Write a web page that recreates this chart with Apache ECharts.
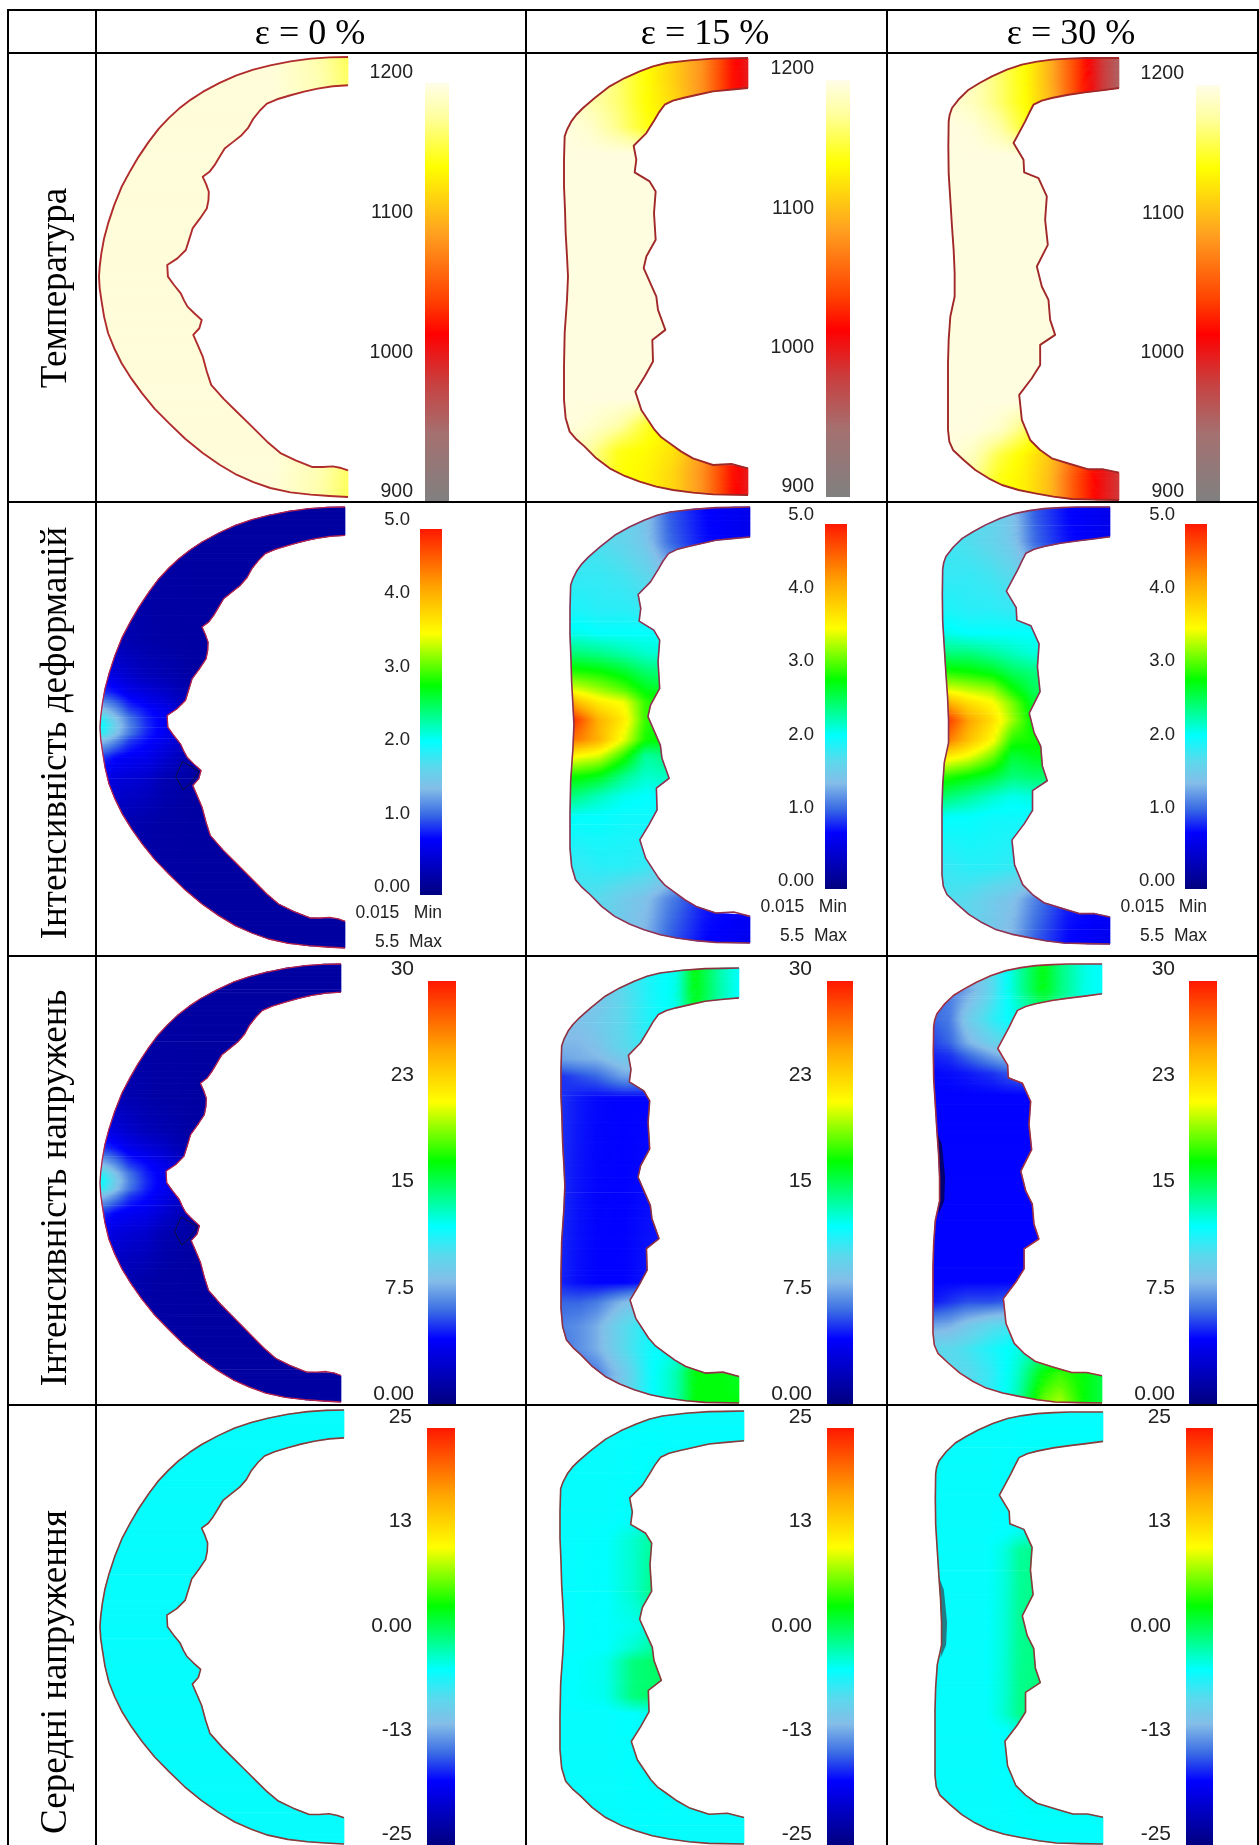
<!DOCTYPE html>
<html>
<head>
<meta charset="utf-8">
<style>
  html, body { margin: 0; padding: 0; background: #fff; }
  #chart { width: 1259px; height: 1845px; overflow: hidden; }
</style>
<script src="https://cdn.jsdelivr.net/npm/echarts@6/dist/echarts.min.js"></script>
</head>
<body>
<div id="chart"></div>
<script>
// headers
const strainHeaders = ['ε = 0 %', 'ε = 15 %', 'ε = 30 %'];
const rowHeaders = ['Температура', 'Інтенсивність деформацій', 'Інтенсивність напружень', 'Середні напруження'];

// scale labels, low to high
const tempLabels = ['900', '1000', '1100', '1200'];
const strainLabels = ['0.00', '1.0', '2.0', '3.0', '4.0', '5.0'];
const stressLabels = ['0.00', '7.5', '15', '23', '30'];
const meanLabels = ['-25', '-13', '0.00', '13', '25'];

// colour scales, position from the bottom of the bar
const heatStops = [[0, '#808080'], [0.163, '#a57070'], [0.283, '#c84040'], [0.4, '#ff0000'], [0.48, '#ff4000'],
  [0.64, '#ffa020'], [0.8, '#ffff00'], [0.92, '#ffffa0'], [1, '#fffde8']];
const jetStops = [[0, '#000080'], [0.153, '#0000ff'], [0.22, '#3a6ce4'], [0.29, '#84bde8'], [0.35, '#5cd8ec'],
  [0.42, '#00ffff'], [0.573, '#00ff00'], [0.714, '#ffff00'], [0.84, '#ffa500'], [1, '#ff1800']];

// section outlines, [x, y]
const outer0 = [[1030,170],[975,171],[920,175],[860,183],[800,195],[750,208],[700,225],[650,248],[600,275],[565,298],[530,325],[500,353],[470,385],[440,425],[410,470],[385,513],[360,560],[338,615],[320,670],[308,715],[300,760],[295,800],[293,830],[295,865],[300,900],[308,950],[320,1000],[338,1045],[360,1090],[388,1135],[420,1180],[458,1227],[500,1270],[548,1317],[600,1360],[650,1395],[700,1425],[750,1447],[800,1465],[860,1478],[920,1485],[975,1489],[1030,1492]];
const inner0 = [[1030,255],[985,258],[940,265],[900,274],[860,285],[820,297],[790,310],[770,330],[750,355],[735,382],[715,405],[690,425],[665,445],[650,470],[635,495],[620,515],[600,530],[610,552],[618,575],[617,600],[612,625],[592,655],[570,685],[560,718],[550,750],[525,775],[495,795],[497,830],[515,855],[535,880],[545,902],[555,920],[575,940],[597,960],[590,985],[572,1005],[585,1035],[600,1070],[612,1115],[625,1155],[662,1197],[700,1235],[730,1265],[760,1295],[795,1330],[830,1360],[875,1382],[925,1402],[955,1402],[985,1400],[1010,1405],[1030,1412]];
const outer15 = [[665,175],[610,176],[560,177],[490,182],[420,190],[380,200],[340,215],[295,235],[250,260],[205,295],[170,325],[150,345],[135,365],[122,390],[115,410],[113,480],[113,560],[116,630],[118,700],[122,770],[125,830],[122,900],[115,1000],[113,1100],[113,1200],[118,1255],[130,1295],[150,1318],[175,1340],[210,1375],[250,1405],[295,1428],[340,1445],[390,1460],[440,1470],[500,1478],[560,1483],[665,1485]];
const inner15 = [[665,265],[610,270],[560,275],[510,286],[470,295],[440,303],[415,315],[398,338],[385,360],[360,400],[322,438],[330,480],[325,518],[370,545],[388,575],[383,640],[388,720],[360,770],[352,805],[372,850],[390,890],[395,930],[417,990],[378,1020],[380,1085],[355,1130],[327,1175],[345,1230],[385,1290],[405,1312],[430,1330],[465,1355],[500,1375],[560,1395],[615,1392],[665,1405]];
const outer30 = [[702,175],[650,175],[600,175],[550,177],[500,180],[455,186],[410,195],[365,210],[320,230],[283,250],[250,270],[222,297],[200,325],[193,345],[190,365],[189,440],[190,520],[195,600],[200,680],[205,750],[208,820],[208,890],[195,950],[190,1020],[188,1090],[188,1290],[192,1325],[203,1350],[235,1380],[270,1410],[310,1435],[350,1455],[400,1470],[450,1480],[505,1490],[560,1497],[630,1499],[702,1500]];
const inner30 = [[702,265],[650,272],[600,278],[550,285],[500,295],[470,303],[445,315],[432,340],[420,365],[385,430],[415,480],[417,518],[460,535],[485,590],[480,660],[488,735],[455,800],[470,860],[490,900],[495,960],[510,1005],[465,1035],[465,1095],[440,1135],[402,1185],[410,1260],[435,1320],[465,1350],[500,1375],[555,1392],[610,1408],[655,1408],[702,1418]];
// small dark mesh fold at the ε = 0 notch, dark patch on the ε = 30 outer wall
const foldMark0 = [[521,978],[541,933],[591,963],[566,998],[543,1018],[521,978]];
const darkWall30 = [[200,680],[208,820],[208,890],[205,930],[222,890],[225,820],[215,720]];

// fields: values on [rows, cols] fractions of the section's box
const tempRows0 = [0, 0.12, 0.2, 0.8, 0.88, 1];
const tempCols0 = [0, 0.7, 0.88, 1];
const temp0 = [
  [1195,1195,1180,1160],
  [1195,1195,1185,1165],
  [1195,1195,1195,1195],
  [1195,1195,1195,1195],
  [1195,1195,1185,1165],
  [1195,1195,1180,1160]];
const tempRows = [0, 0.05, 0.1, 0.16, 0.22, 0.78, 0.84, 0.9, 0.95, 1];
const tempCols = [0, 0.15, 0.3, 0.45, 0.6, 0.75, 0.9, 1];
const temp15 = [
  [1190,1185,1165,1140,1115,1085,1030,1005],
  [1190,1185,1165,1140,1115,1085,1030,1005],
  [1195,1180,1165,1140,1120,1085,1030,1005],
  [1198,1190,1170,1145,1125,1085,1030,1005],
  [1197,1197,1197,1197,1197,1197,1197,1197],
  [1197,1197,1197,1197,1197,1197,1197,1197],
  [1197,1192,1180,1150,1130,1100,1030,1005],
  [1195,1175,1145,1138,1125,1090,1030,1010],
  [1190,1170,1142,1135,1118,1085,1030,1005],
  [1190,1170,1142,1135,1118,1085,1030,1005]];
const temp30 = [
  [1190,1185,1165,1140,1100,1045,990,960],
  [1190,1185,1165,1140,1100,1045,990,960],
  [1195,1185,1165,1140,1105,1045,990,960],
  [1198,1195,1180,1150,1120,1045,990,960],
  [1197,1197,1197,1197,1197,1197,1197,1197],
  [1197,1197,1197,1197,1197,1197,1197,1197],
  [1197,1197,1190,1165,1130,1060,1010,990],
  [1197,1185,1155,1135,1110,1060,1010,990],
  [1192,1175,1145,1132,1105,1050,1010,990],
  [1192,1175,1145,1132,1105,1050,1010,990]];

const edgeRows0 = [0, 0.30, 0.38, 0.42, 0.46, 0.48, 0.497, 0.515, 0.53, 0.57, 0.62, 0.72, 1];
const edgeCols0 = [0, 0.02, 0.065, 0.12, 0.19, 0.26, 0.4, 1];
const strain0 = [
  [0.2,0.2,0.2,0.2,0.2,0.2,0.2,0.2],
  [0.3,0.3,0.3,0.28,0.25,0.22,0.2,0.2],
  [0.6,0.6,0.55,0.45,0.35,0.3,0.2,0.2],
  [0.9,0.9,0.8,0.65,0.55,0.45,0.2,0.2],
  [1.5,1.45,1.25,0.95,0.8,0.65,0.25,0.2],
  [1.95,1.85,1.5,1.15,0.87,0.7,0.25,0.2],
  [2.1,2.0,1.6,1.2,0.9,0.7,0.25,0.2],
  [1.95,1.85,1.5,1.15,0.87,0.7,0.25,0.2],
  [1.5,1.45,1.25,0.95,0.8,0.65,0.25,0.2],
  [0.9,0.9,0.75,0.7,0.65,0.5,0.2,0.2],
  [0.6,0.6,0.55,0.5,0.45,0.3,0.2,0.2],
  [0.3,0.3,0.3,0.28,0.25,0.22,0.2,0.2],
  [0.2,0.2,0.2,0.2,0.2,0.2,0.2,0.2]];
const strainRows = [0, 0.08, 0.16, 0.24, 0.29, 0.336, 0.38, 0.42, 0.45, 0.489, 0.535, 0.57, 0.618, 0.664, 0.71, 0.825, 0.9, 1];
const strainCols = [0, 0.05, 0.16, 0.3, 0.42, 0.55, 0.75, 1];
const strain15 = [
  [1.8,1.8,1.8,1.7,1.5,1.05,0.77,0.65],
  [1.85,1.85,1.8,1.7,1.55,1.1,0.8,0.65],
  [1.9,1.9,1.9,1.85,1.75,1.5,0.9,0.7],
  [2.0,2.0,1.95,1.95,1.9,1.9,1.9,1.9],
  [2.15,2.15,2.1,2.1,2.1,2.1,2.1,2.1],
  [2.5,2.5,2.45,2.35,2.25,2.2,2.2,2.2],
  [3.0,2.95,2.9,2.75,2.55,2.5,2.5,2.5],
  [3.5,3.45,3.3,3.1,2.8,2.7,2.7,2.7],
  [4.3,4.0,3.7,3.55,3.0,2.9,2.9,2.9],
  [4.95,4.7,4.1,3.7,3.0,2.9,2.9,2.9],
  [4.5,4.4,4.1,3.5,2.9,2.85,2.85,2.85],
  [3.7,3.6,3.5,3.0,2.4,2.5,2.5,2.5],
  [2.9,2.9,2.8,2.45,2.25,2.3,2.3,2.3],
  [2.5,2.45,2.3,2.15,2.1,2.1,2.1,2.1],
  [2.15,2.1,2.1,2.05,2.05,2.05,2.05,2.05],
  [1.9,1.9,1.95,1.95,1.9,1.75,1.75,1.75],
  [1.8,1.8,1.75,1.6,1.5,1.2,0.85,0.75],
  [1.7,1.7,1.65,1.55,1.4,1.05,0.77,0.65]];
const strain30 = [
  [1.8,1.8,1.8,1.7,1.5,1.05,0.77,0.65],
  [1.85,1.85,1.8,1.7,1.55,1.1,0.8,0.65],
  [1.9,1.9,1.9,1.85,1.75,1.5,0.9,0.7],
  [2.0,2.0,1.95,1.95,1.9,1.9,1.9,1.9],
  [2.15,2.15,2.1,2.1,2.1,2.1,2.1,2.1],
  [2.55,2.5,2.5,2.4,2.3,2.2,2.2,2.2],
  [3.0,2.95,2.9,2.8,2.6,2.5,2.5,2.5],
  [3.5,3.5,3.4,3.3,2.9,2.6,2.6,2.6],
  [4.3,4.1,3.8,3.6,3.2,2.7,2.7,2.7],
  [4.95,4.75,4.2,3.8,3.3,2.8,2.8,2.8],
  [4.5,4.4,4.0,3.6,2.95,2.9,2.9,2.9],
  [3.8,3.7,3.55,3.2,2.7,2.8,2.8,2.8],
  [3.0,2.95,2.85,2.7,2.5,2.55,2.55,2.55],
  [2.55,2.5,2.4,2.25,2.15,2.2,2.2,2.2],
  [2.15,2.1,2.1,2.05,2.05,2.05,2.05,2.05],
  [1.9,1.9,1.95,1.95,1.9,1.75,1.75,1.75],
  [1.8,1.8,1.75,1.6,1.5,1.2,0.85,0.75],
  [1.7,1.7,1.65,1.55,1.4,1.05,0.77,0.65]];

const stress0 = [
  [1.2,1.2,1.2,1.2,1.2,1.2,1.2,1.2],
  [1.8,1.8,1.8,1.7,1.5,1.3,1.2,1.2],
  [3.6,3.6,3.3,2.7,2.1,1.8,1.2,1.2],
  [5.4,5.4,4.8,3.9,3.3,2.7,1.2,1.2],
  [9,8.7,7.5,5.7,4.8,3.9,1.5,1.2],
  [11.7,11.1,9,6.9,5.2,4.2,1.5,1.2],
  [12.6,12,9.6,7.2,5.4,4.2,1.5,1.2],
  [11.7,11.1,9,6.9,5.2,4.2,1.5,1.2],
  [9,8.7,7.5,5.7,4.8,3.9,1.5,1.2],
  [5.4,5.4,4.5,4.2,3.9,3,1.2,1.2],
  [3.6,3.6,3.3,3,2.7,1.8,1.2,1.2],
  [1.8,1.8,1.8,1.7,1.5,1.3,1.2,1.2],
  [1.2,1.2,1.2,1.2,1.2,1.2,1.2,1.2]];
const stressRows = [0, 0.06, 0.126, 0.18, 0.21, 0.25, 0.30, 0.724, 0.77, 0.824, 0.877, 0.93, 1];
const stressCols = [0, 0.1, 0.2, 0.35, 0.5, 0.65, 0.75, 0.9, 1];
const stress15 = [
  [9,9,9.5,10.5,12,13,17,14,12.6],
  [9,9,9,10.5,12,13,17,14,12.6],
  [9,9,9.5,10.5,12,13,16,14,12.6],
  [8.5,8.5,9,10.5,11.5,12,12,12,12],
  [8,8.3,8.5,9.5,10,10,10,10,10],
  [5.5,6,6.5,8,8,8,8,8,8],
  [5.5,5,4.7,4.6,4.6,4.6,4.6,4.6,4.6],
  [5.2,4.8,4.6,4.6,5,5,5,5,5],
  [6.5,6.5,7,8.7,10,10,10,10,10],
  [7.2,7.5,8.3,10.5,12,12,12,12,12],
  [6.8,7.5,8.3,10.5,12.3,13,13,13,13],
  [6.5,6.5,7,9.5,12.3,14,17,17,16.5],
  [7,7,7,9.5,12.3,14,17,17,17]];
const stress30 = [
  [7,7,8,10.5,14,17,15,13,12.6],
  [7,7,8,10.5,14,17,15,13,12.6],
  [6.5,7,9.5,11.5,13,14,14,13,12.6],
  [5.8,6.5,8.3,10,11,12,12,12,12],
  [5.2,5.5,6.5,8,9.5,10,10,10,10],
  [4.7,4.8,5,5.5,6.5,6.5,6.5,6.5,6.5],
  [4.6,4.6,4.6,4.6,4.6,4.6,4.6,4.6,4.6],
  [4.6,4.6,4.6,4.6,4.6,4.6,4.6,4.6,4.6],
  [5,5.5,6,6,6.5,6.5,6.5,6.5,6.5],
  [8,8.3,9.3,10.5,11,11,11,11,11],
  [10.5,10.5,11,12,13,14,14,14,14],
  [10.5,10.5,10.5,11.5,13.5,17,18,17,16],
  [10.5,10.5,10.5,11.5,14,19,20,17,16]];

const flatRows = [0, 1];
const flatCols = [0, 1];
const mean0 = [[-4.2,-4.2],[-4.2,-4.2]];
const meanRows15 = [0, 0.25, 0.3, 0.42, 0.5, 0.55, 0.58, 0.66, 0.7, 1];
const meanCols15 = [0, 0.25, 0.4, 0.5, 0.6, 1];
const mean15 = [
  [-4.2,-4.2,-4.2,-4.2,-4.2,-4.2],
  [-4.2,-4.2,-4,-3.5,-4,-4],
  [-4.2,-4,-2.5,-1,-1,-4],
  [-4.2,-4,-2.5,-0.5,-0.5,-4],
  [-4.2,-4,-3.5,-3,-3,-4],
  [-4.2,-4,-2.5,-1,-1,-4],
  [-4.2,-3.5,0,0.5,0.5,-4],
  [-4.2,-3.5,0,0.5,0.5,-4],
  [-4.2,-4.2,-4,-3.5,-4,-4],
  [-4.2,-4.2,-4.2,-4.2,-4.2,-4.2]];
const meanRows30 = [0, 0.28, 0.32, 0.7, 0.74, 1];
const meanCols30 = [0, 0.3, 0.42, 0.5, 0.6, 1];
const mean30 = [
  [-4.2,-4.2,-4.2,-4.2,-4.2,-4.2],
  [-4.2,-4.2,-4,-3.5,-3,-3],
  [-4.2,-4.2,-3,-1,-0.5,-0.5],
  [-4.2,-4.2,-2.5,-0.5,0,0],
  [-4.2,-4.2,-4,-3.5,-3,-3],
  [-4.2,-4.2,-4.2,-4.2,-4.2,-4.2]];

// layout of the table, in page pixels
const gridX = [8, 96, 526, 887, 1258];
const gridY = [10, 53, 502, 956, 1405];
const headerX = [310, 705, 1071];
const rowTextY = [288, 733, 1188, 1672];

const shapes = [
  { outer: outer0, inner: inner0 },
  { outer: outer15, inner: inner15 },
  { outer: outer30, inner: inner30 }
];

const quantities = [
  { stops: heatStops, min: 900, max: 1200, labels: tempLabels, fontSize: 19.5 },
  { stops: jetStops, min: 0, max: 5, labels: strainLabels, fontSize: 18.5 },
  { stops: jetStops, min: 0, max: 30, labels: stressLabels, fontSize: 21 },
  { stops: jetStops, min: -25, max: 25, labels: meanLabels, fontSize: 21 }
];

// one entry per row, then column: section box, bar box, labels [right, top, bottom]
const panels = [
  { q: 0, c: 0, vals: temp0, rows: tempRows0, cols: tempCols0, box: [99, 57, 348, 497], bar: [425, 83, 449, 502], lab: [413, 73, 492], line: '#b02c2c', lw: 1.9 },
  { q: 0, c: 1, vals: temp15, rows: tempRows, cols: tempCols, box: [564, 58, 748, 495], bar: [826, 80, 850, 497], lab: [814, 69, 487], line: '#a02828', lw: 1.9 },
  { q: 0, c: 2, vals: temp30, rows: tempRows, cols: tempCols, box: [948, 58, 1119, 500], bar: [1196, 85, 1220, 501], lab: [1184, 74, 492], line: '#a02828', lw: 1.9 },
  { q: 1, c: 0, vals: strain0, rows: edgeRows0, cols: edgeCols0, box: [100, 507, 345, 948], bar: [420, 529, 442, 895], lab: [410, 520, 887], line: '#b8234a', lw: 1.3, fold: true, minmax: [442, 913, 942] },
  { q: 1, c: 1, vals: strain15, rows: strainRows, cols: strainCols, box: [570, 507, 750, 943], bar: [825, 524, 847, 889], lab: [814, 515, 881], line: '#903050', lw: 1.6, minmax: [847, 907, 936] },
  { q: 1, c: 2, vals: strain30, rows: strainRows, cols: strainCols, box: [942, 507, 1110, 944], bar: [1185, 524, 1207, 889], lab: [1175, 515, 881], line: '#903050', lw: 1.6, minmax: [1207, 907, 936] },
  { q: 2, c: 0, vals: stress0, rows: edgeRows0, cols: edgeCols0, box: [100, 964, 341, 1402], bar: [428, 981, 456, 1404], lab: [414, 969, 1394], line: '#b8234a', lw: 1.3, fold: true },
  { q: 2, c: 1, vals: stress15, rows: stressRows, cols: stressCols, box: [561, 968, 739, 1403], bar: [827, 981, 853, 1404], lab: [812, 969, 1394], line: '#8f3040', lw: 1.6 },
  { q: 2, c: 2, vals: stress30, rows: stressRows, cols: stressCols, box: [933, 964, 1102, 1403], bar: [1189, 981, 1217, 1404], lab: [1175, 969, 1394], line: '#a03040', lw: 1.6, wall: '#000070' },
  { q: 3, c: 0, vals: mean0, rows: flatRows, cols: flatCols, box: [100, 1410, 344, 1844], bar: [427, 1428, 455, 1845], lab: [412, 1417, 1838], line: '#8a3a3a', lw: 1.6 },
  { q: 3, c: 1, vals: mean15, rows: meanRows15, cols: meanCols15, box: [560, 1411, 744, 1844], bar: [827, 1428, 854, 1845], lab: [812, 1417, 1838], line: '#8a3a3a', lw: 1.6 },
  { q: 3, c: 2, vals: mean30, rows: meanRows30, cols: meanCols30, box: [935, 1412, 1103, 1844], bar: [1186, 1428, 1213, 1845], lab: [1171, 1417, 1838], line: '#8a3a3a', lw: 1.6, wall: '#1e7f88' }
];

function hexRgb(hex) {
  return [parseInt(hex.slice(1, 3), 16), parseInt(hex.slice(3, 5), 16), parseInt(hex.slice(5, 7), 16)];
}

function colorAt(stops, t) {
  t = Math.max(0, Math.min(1, t));
  let i = 0;
  while (i < stops.length - 2 && t > stops[i + 1][0]) i++;
  const a = stops[i], b = stops[i + 1];
  const k = (t - a[0]) / (b[0] - a[0]);
  const ca = hexRgb(a[1]), cb = hexRgb(b[1]);
  return 'rgb(' + ca.map((v, n) => Math.round(v + (cb[n] - v) * k)).join(',') + ')';
}

function edgeX(poly, y, fallback) {
  if (y < poly[0][1] || y > poly[poly.length - 1][1]) return fallback;
  for (let i = 0; i < poly.length - 1; i++) {
    const a = poly[i], b = poly[i + 1];
    if (y <= b[1]) return b[1] === a[1] ? b[0] : a[0] + (b[0] - a[0]) * (y - a[1]) / (b[1] - a[1]);
  }
  return fallback;
}

function findCell(list, f) {
  let i = 0;
  while (i < list.length - 2 && f > list[i + 1]) i++;
  return [i, Math.max(0, Math.min(1, (f - list[i]) / (list[i + 1] - list[i])))];
}

function fieldAt(p, fx, fy) {
  const [r, kr] = findCell(p.rows, fy);
  const [c, kc] = findCell(p.cols, fx);
  const top = p.vals[r][c] + (p.vals[r][c + 1] - p.vals[r][c]) * kc;
  const bot = p.vals[r + 1][c] + (p.vals[r + 1][c + 1] - p.vals[r + 1][c]) * kc;
  return top + (bot - top) * kr;
}

const grids = [], xAxes = [], yAxes = [], series = [];

function addGrid(box, xAxis, yAxis) {
  const i = grids.length;
  grids.push({ left: box[0], top: box[1], width: box[2] - box[0], height: box[3] - box[1], containLabel: false });
  xAxes.push(Object.assign({ gridIndex: i }, xAxis));
  yAxes.push(Object.assign({ gridIndex: i }, yAxis));
  return i;
}

panels.forEach(p => {
  const q = quantities[p.q];
  const shape = shapes[p.c];
  const xs = shape.outer.concat(shape.inner).map(d => d[0]);
  const ys = shape.outer.concat(shape.inner).map(d => d[1]);
  const xMin = Math.min(...xs), xMax = Math.max(...xs), yMin = Math.min(...ys), yMax = Math.max(...ys);

  // the section
  const g = addGrid(p.box,
    { type: 'value', min: xMin, max: xMax, show: false },
    { type: 'value', min: yMin, max: yMax, inverse: true, show: false });
  series.push({
    type: 'custom',
    xAxisIndex: g,
    yAxisIndex: g,
    silent: true,
    clip: false,
    data: [[xMin, yMin]],
    renderItem: (params, api) => {
      const children = [];
      const step = (yMax - yMin) / (p.box[3] - p.box[1]) * 2;
      const levels = ys.slice();
      for (let y = yMin; y < yMax; y += step) levels.push(y);
      levels.sort((a, b) => a - b);
      for (let i = 0; i < levels.length - 1; i++) {
        const y0 = levels[i], y1 = levels[i + 1];
        if (y1 - y0 < 0.5) continue;
        const l0 = edgeX(shape.outer, y0, xMax), l1 = edgeX(shape.outer, y1, xMax);
        const r0 = edgeX(shape.inner, y0, xMax), r1 = edgeX(shape.inner, y1, xMax);
        const left = Math.min(l0, l1), right = Math.max(r0, r1);
        if (right - left < 1) continue;
        const colorStops = [];
        for (let n = 0; n <= 16; n++) {
          const x = left + (right - left) * n / 16;
          const v = fieldAt(p, (x - xMin) / (xMax - xMin), ((y0 + y1) / 2 - yMin) / (yMax - yMin));
          colorStops.push({ offset: n / 16, color: colorAt(q.stops, (v - q.min) / (q.max - q.min)) });
        }
        const a = api.coord([left, y0]), b = api.coord([right, y0]);
        const fill = new echarts.graphic.LinearGradient(a[0], 0, b[0], 0, colorStops, true);
        children.push({
          type: 'polygon',
          shape: { points: [api.coord([l0, y0]), api.coord([r0, y0]), api.coord([r1, y1]), api.coord([l1, y1])] },
          style: { fill: fill, stroke: fill, lineWidth: 0.7 }
        });
      }
      if (p.wall) {
        children.push({
          type: 'polygon',
          shape: { points: darkWall30.map(d => api.coord(d)) },
          style: { fill: p.wall }
        });
      }
      if (p.fold) {
        children.push({
          type: 'polyline',
          shape: { points: foldMark0.map(d => api.coord(d)) },
          style: { fill: null, stroke: '#101040', lineWidth: 1 }
        });
      }
      [shape.outer, shape.inner].forEach(line => {
        children.push({
          type: 'polyline',
          shape: { points: line.map(d => api.coord(d)) },
          style: { fill: null, stroke: p.line, lineWidth: p.lw, lineJoin: 'round' }
        });
      });
      return { type: 'group', children: children };
    }
  });

  // the colour bar
  const b = addGrid(p.bar,
    { type: 'value', min: 0, max: 1, show: false },
    { type: 'value', min: q.min, max: q.max, show: false });
  series.push({
    type: 'custom',
    xAxisIndex: b,
    yAxisIndex: b,
    silent: true,
    clip: false,
    data: [[0, q.min]],
    renderItem: (params, api) => {
      const low = api.coord([0, q.min]);
      const high = api.coord([1, q.max]);
      return {
        type: 'rect',
        shape: { x: low[0], y: high[1], width: high[0] - low[0], height: low[1] - high[1] },
        style: {
          fill: new echarts.graphic.LinearGradient(0, 1, 0, 0,
            q.stops.map(s => ({ offset: s[0], color: s[1] })))
        }
      };
    }
  });

  // scale labels on a category axis, so each keeps its printed form
  addGrid([p.lab[0], p.lab[1], p.lab[0] + 1, p.lab[2]],
    { type: 'value', min: 0, max: 1, show: false },
    {
      type: 'category',
      data: q.labels,
      boundaryGap: false,
      axisLine: { show: false },
      axisTick: { show: false },
      splitLine: { show: false },
      axisLabel: {
        show: true,
        interval: 0,
        margin: 0,
        align: 'right',
        hideOverlap: false,
        color: '#222',
        fontFamily: 'Liberation Sans',
        fontSize: q.fontSize
      }
    });
});

// table rules and headers
const rules = [];
gridX.forEach(x => rules.push({ type: 'line', shape: { x1: x, y1: gridY[0] - 1, x2: x, y2: 1845 }, style: { stroke: '#000', lineWidth: 2 }, z: 10 }));
gridY.forEach(y => rules.push({ type: 'line', shape: { x1: gridX[0] - 1, y1: y, x2: gridX[4] + 1, y2: y }, style: { stroke: '#000', lineWidth: 2 }, z: 10 }));

const texts = [];
strainHeaders.forEach((t, i) => texts.push({
  type: 'text', x: headerX[i], y: 35,
  style: { text: t, font: '36px "Liberation Serif"', fill: '#000', align: 'center', verticalAlign: 'middle' }
}));
rowHeaders.forEach((t, i) => texts.push({
  type: 'text', x: 56, y: rowTextY[i], rotation: Math.PI / 2,
  style: { text: t, font: '37px "Liberation Serif"', fill: '#000', align: 'center', verticalAlign: 'middle' }
}));
panels.filter(p => p.minmax).forEach(p => {
  texts.push({
    type: 'text', x: p.minmax[0], y: p.minmax[1],
    style: { text: '0.015   Min', font: '17.5px "Liberation Sans"', fill: '#222', align: 'right', verticalAlign: 'middle' }
  });
  texts.push({
    type: 'text', x: p.minmax[0], y: p.minmax[2],
    style: { text: '5.5  Max', font: '17.5px "Liberation Sans"', fill: '#222', align: 'right', verticalAlign: 'middle' }
  });
});

const chart = echarts.init(document.getElementById('chart'), null, { renderer: 'canvas' });
chart.setOption({
  animation: false,
  backgroundColor: '#fff',
  grid: grids,
  xAxis: xAxes,
  yAxis: yAxes,
  series: series,
  graphic: { elements: rules.concat(texts) }
});
</script>
</body>
</html>
